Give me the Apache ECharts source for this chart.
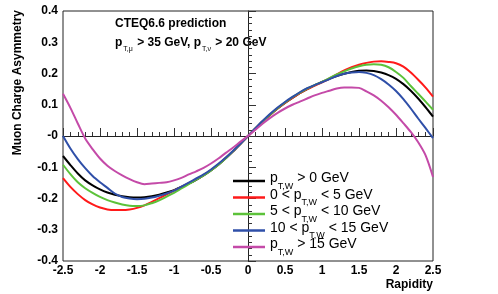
<!DOCTYPE html>
<html><head><meta charset="utf-8">
<script src="https://cdn.jsdelivr.net/npm/echarts@6/dist/echarts.min.js"></script>
<style>html,body{margin:0;padding:0;background:#fff}#c{width:498px;height:294px}</style>
</head><body><div id="c"></div>
<script>
const rapidity = [-2.5,-2.4,-2.3,-2.2,-2.1,-2.0,-1.9,-1.8,-1.7,-1.6,-1.5,-1.4,-1.3,-1.2,-1.1,-1.0,-0.9,-0.8,-0.7,-0.6,-0.5,-0.4,-0.3,-0.2,-0.1,0.0,0.1,0.2,0.3,0.4,0.5,0.6,0.7,0.8,0.9,1.0,1.1,1.2,1.3,1.4,1.5,1.6,1.7,1.8,1.9,2.0,2.1,2.2,2.3,2.4,2.5];
const asymAll = [-0.064,-0.093,-0.120,-0.142,-0.158,-0.171,-0.181,-0.188,-0.193,-0.196,-0.197,-0.196,-0.193,-0.188,-0.181,-0.173,-0.163,-0.152,-0.140,-0.126,-0.110,-0.092,-0.071,-0.049,-0.025,0.000,0.024,0.047,0.068,0.088,0.106,0.122,0.137,0.150,0.162,0.173,0.183,0.192,0.199,0.205,0.209,0.210,0.208,0.203,0.195,0.183,0.166,0.145,0.120,0.092,0.062];
const asym0to5 = [-0.135,-0.163,-0.186,-0.205,-0.219,-0.229,-0.235,-0.237,-0.237,-0.235,-0.230,-0.222,-0.211,-0.199,-0.187,-0.175,-0.163,-0.151,-0.139,-0.125,-0.109,-0.091,-0.070,-0.048,-0.024,0.000,0.024,0.047,0.068,0.088,0.106,0.122,0.137,0.150,0.161,0.172,0.184,0.197,0.210,0.220,0.228,0.234,0.238,0.239,0.237,0.233,0.222,0.203,0.180,0.155,0.126];
const asym5to10 = [-0.092,-0.122,-0.148,-0.167,-0.182,-0.195,-0.205,-0.213,-0.219,-0.223,-0.224,-0.222,-0.215,-0.206,-0.194,-0.182,-0.168,-0.154,-0.140,-0.126,-0.110,-0.092,-0.071,-0.048,-0.024,0.000,0.024,0.047,0.069,0.089,0.107,0.124,0.139,0.152,0.163,0.173,0.185,0.197,0.207,0.216,0.223,0.228,0.230,0.228,0.220,0.205,0.186,0.160,0.135,0.110,0.084];
const asym10to15 = [0.000,-0.040,-0.074,-0.103,-0.128,-0.148,-0.166,-0.184,-0.195,-0.200,-0.202,-0.201,-0.197,-0.191,-0.184,-0.175,-0.162,-0.149,-0.136,-0.123,-0.107,-0.089,-0.069,-0.047,-0.024,0.000,0.025,0.049,0.071,0.091,0.109,0.125,0.140,0.153,0.163,0.172,0.182,0.192,0.199,0.203,0.205,0.202,0.195,0.182,0.165,0.144,0.118,0.088,0.056,0.025,-0.007];
const asymAbove15 = [0.135,0.090,0.040,-0.008,-0.042,-0.072,-0.095,-0.112,-0.126,-0.138,-0.148,-0.154,-0.152,-0.150,-0.148,-0.142,-0.134,-0.123,-0.113,-0.102,-0.088,-0.072,-0.054,-0.037,-0.018,0.000,0.020,0.040,0.058,0.074,0.088,0.100,0.110,0.120,0.130,0.138,0.145,0.152,0.155,0.155,0.154,0.143,0.130,0.113,0.092,0.068,0.041,0.013,-0.020,-0.062,-0.131];

const seriesNames = ['all','0to5','5to10','10to15','above15'];
const legendLabels = {
  'all': '{m|p}{s|T,W}{m| > 0 GeV}',
  '0to5': '{m|0 < p}{s|T,W}{m| < 5 GeV}',
  '5to10': '{m|5 < p}{s|T,W}{m| < 10 GeV}',
  '10to15': '{m|10 < p}{s|T,W}{m| < 15 GeV}',
  'above15': '{m|p}{s|T,W}{m| > 15 GeV}'
};
const seriesValues = [asymAll, asym0to5, asym5to10, asym10to15, asymAbove15];
const colors = ['#000000','#ff1a1a','#5cc23a','#2f4fa8','#c44aa8'];
const xTicks = {min:-2.5, max:2.5, interval:0.5};
const yTicks = {min:-0.4, max:0.4, interval:0.1};

const FONT = 'Liberation Sans, Arial, Helvetica, sans-serif';
const chart = echarts.init(document.getElementById('c'), null, {renderer:'canvas'});

const series = seriesNames.map((n,i)=>({
  name: n, type:'line', showSymbol:false, smooth:0.3,
  lineStyle:{width:2, color:colors[i]}, itemStyle:{color:colors[i]},
  data: rapidity.map((x,j)=>[x, seriesValues[i][j]]),
  z: 2+i
}));

const fmt = v => { if (Math.abs(v) < 1e-9) return '-0'; return String(+v.toFixed(1)); };
const fmtX = v => String(+v.toFixed(1));

chart.setOption({
  animation:false,
  textStyle:{fontFamily:FONT},
  grid:{left:63, right:65, top:11, bottom:33, show:true, borderColor:'#222', borderWidth:1, backgroundColor:'transparent'},
  xAxis:{type:'value', min:xTicks.min, max:xTicks.max, interval:xTicks.interval,
    axisLine:{lineStyle:{color:'#222', width:1}},
    axisTick:{inside:true, length:8, lineStyle:{color:'#333'}},
    minorTick:{show:true, splitNumber:5, length:4, lineStyle:{color:'#333'}},
    splitLine:{show:false},
    axisLabel:{formatter:fmtX, fontFamily:FONT, fontWeight:'bold', fontSize:12, color:'#000', margin:4}
  },
  yAxis:{type:'value', min:yTicks.min, max:yTicks.max, interval:yTicks.interval,
    axisLine:{show:true, lineStyle:{color:'#222', width:1}},
    axisTick:{show:true, inside:true, length:8, lineStyle:{color:'#333'}},
    minorTick:{show:true, splitNumber:5, length:4, lineStyle:{color:'#333'}},
    splitLine:{show:false},
    axisLabel:{formatter:fmt, fontFamily:FONT, fontWeight:'bold', fontSize:12, color:'#000', margin:5}
  },
  legend:{
    orient:'vertical', left:233, top:171, padding:0, itemGap:-3.5,
    itemWidth:32, itemHeight:2.5, icon:'rect',
    data: seriesNames,
    formatter: n => legendLabels[n],
    textStyle:{fontFamily:FONT, color:'#000',
      rich:{
        m:{fontSize:14, lineHeight:14, padding:[0,0,5,0], fontFamily:FONT, color:'#000'},
        s:{fontSize:9, lineHeight:9, padding:[11,0,0,0], fontFamily:FONT, color:'#000'}
      }
    }
  },
  graphic:[
    {type:'text', left:115, top:18, style:{text:'CTEQ6.6 prediction', font:'bold 12px '+FONT, fill:'#000'}},
    {type:'text', left:115, top:36, style:{
      text:'{m|p}{s|T,μ}{m| > 35 GeV, p}{s|T,ν}{m| > 20 GeV}',
      rich:{
        m:{font:'bold 12px '+FONT, fill:'#000', lineHeight:12, padding:[0,0,4,0]},
        s:{font:'7px '+FONT, fill:'#000', lineHeight:7, padding:[10,1,0,1]}
      }}},
    {type:'text', right:65, top:279, style:{text:'Rapidity', font:'bold 12px '+FONT, fill:'#000'}},
    {type:'text', left:12, top:10, rotation:Math.PI/2, originX:0, originY:0,
      style:{text:'Muon Charge Asymmetry', font:'bold 12px '+FONT, fill:'#000', align:'right', verticalAlign:'top'}}
  ],
  series: series
});
</script></body></html>
